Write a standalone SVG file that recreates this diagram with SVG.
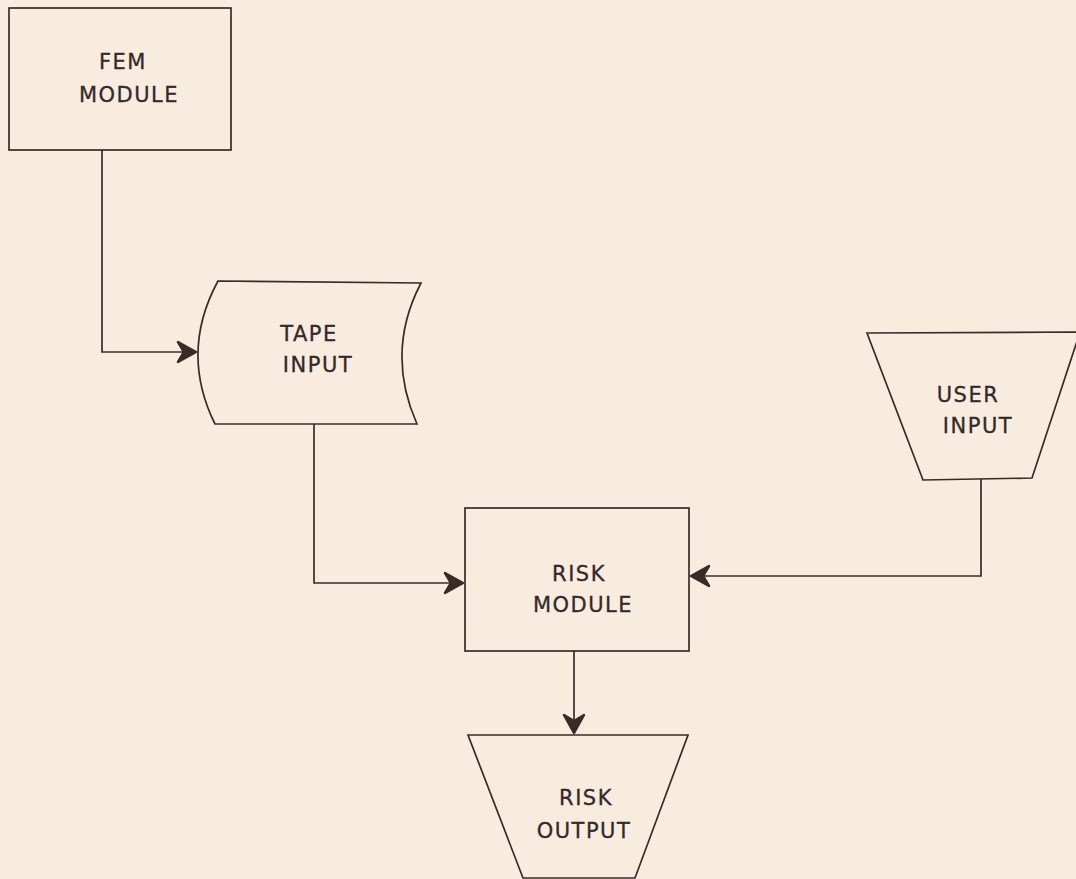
<svg xmlns="http://www.w3.org/2000/svg" width="1076" height="879" viewBox="0 0 1076 879">
<style>
.shape{fill:none;stroke:#3a2b29;stroke-width:1.7}
.conn{fill:none;stroke:#3a2b29;stroke-width:1.7}
.lbl{font-family:"DejaVu Sans",sans-serif;font-size:21px;letter-spacing:1.5px;fill:#33292a;stroke:#33292a;stroke-width:0.3;text-anchor:middle}
</style>
<defs>
<marker id="arr" markerUnits="userSpaceOnUse" viewBox="-22 -12 24 24" refX="0" refY="0" markerWidth="24" markerHeight="24" orient="auto">
<path d="M0,0 L-18,-10 L-12,0 L-18,10 Z" fill="#3a2b29" stroke="#3a2b29" stroke-width="2.5" stroke-linejoin="round"/>
</marker>
</defs>
<rect width="1076" height="879" fill="#f8ecdf"/>
<g id="connectors">
<path class="conn" d="M102,150 V352 H196" marker-end="url(#arr)"/>
<path class="conn" d="M314,424 V583 H463" marker-end="url(#arr)"/>
<path class="conn" d="M981,479 V576 H691" marker-end="url(#arr)"/>
<path class="conn" d="M574,651 V733" marker-end="url(#arr)"/>
</g>
<g id="fem-module">
<rect class="shape" x="9" y="8" width="222" height="142"/>
<text class="lbl" x="123" y="69">FEM</text>
<text class="lbl" x="129" y="102">MODULE</text>
</g>
<g id="tape-input">
<path class="shape" d="M218,281 L421,283 Q385,352 417,424 L215,424 Q179.5,352 218,281 Z"/>
<text class="lbl" x="309" y="341">TAPE</text>
<text class="lbl" x="318" y="372">INPUT</text>
</g>
<g id="user-input">
<path class="shape" d="M867,333 L1080,332 L1032,478 L923,480 Z"/>
<text class="lbl" x="968" y="402">USER</text>
<text class="lbl" x="978" y="433">INPUT</text>
</g>
<g id="risk-module">
<rect class="shape" x="465" y="508" width="224" height="143"/>
<text class="lbl" x="579" y="581">RISK</text>
<text class="lbl" x="583" y="612">MODULE</text>
</g>
<g id="risk-output">
<path class="shape" d="M468,735 L688,735 L635,878 L523,878 Z"/>
<text class="lbl" x="586" y="805">RISK</text>
<text class="lbl" x="584" y="838">OUTPUT</text>
</g>
</svg>
